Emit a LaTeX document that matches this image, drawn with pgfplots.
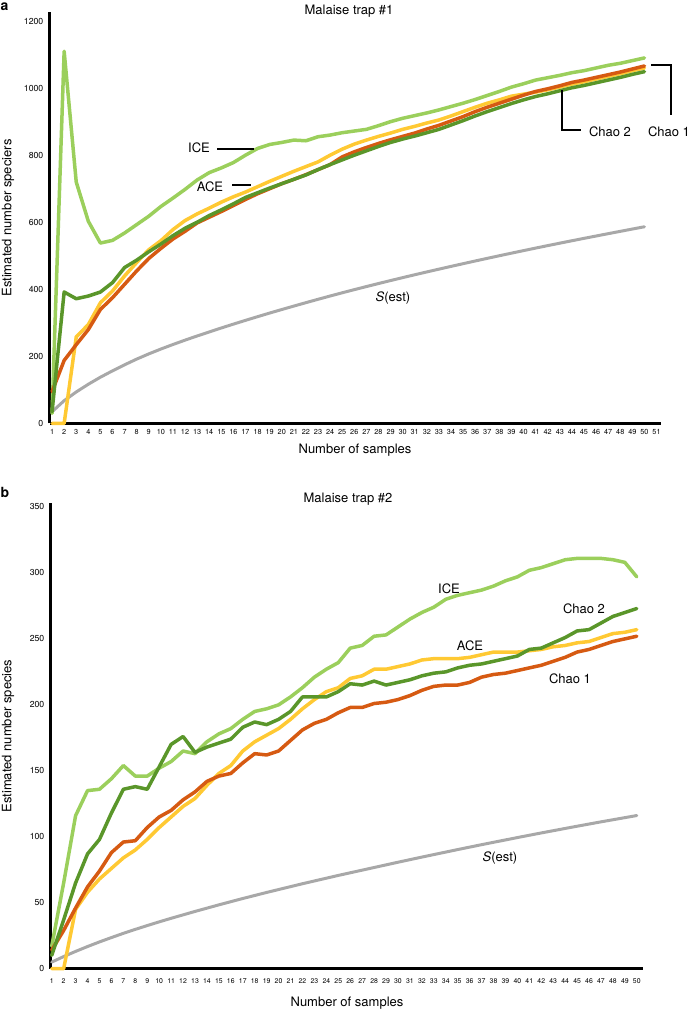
\documentclass[border=0pt]{standalone}
\usepackage{fontspec}
\setmainfont{TeX Gyre Heros}
\usepackage{pgfplots}
\pgfplotsset{compat=1.18}
\usepackage{pgfplotstable}

\definecolor{ice}{HTML}{9BCF5C}
\definecolor{chaotwo}{HTML}{5A962A}
\definecolor{ace}{HTML}{FFC933}
\definecolor{chaoone}{HTML}{D65A12}
\definecolor{sest}{HTML}{A8A8A8}

% Panel a data: k ICE ACE Chao1 Chao2 Sest
\pgfplotstableread{
k ice ace chao1 chao2 sest
1 30 0 95 35 35
2 1110 0 188 392 68
3 720 258 235 372 94
4 603 295 280 380 117
5 538 360 340 392 138
6 546 395 375 420 157
7 568 440 415 465 175
8 593 480 455 487 192
9 618 518 492 512 207.5
10 647 545 522 535 222
11 672 578 550 560 235.5
12 698 605 573 582 248.5
13 726 625 598 600 261
14 748 642 615 620 273
15 762 660 632 637 284.8
16 778 676 650 655 296.3
17 800 690 668 674 307.5
18 820 706 685 688 318.5
19 832 722 700 702 329.3
20 838 737 715 715 339.8
21 845 752 728 728 350.1
22 843 766 742 741 360.3
23 855 780 757 757 370.3
24 860 800 772 772 380.1
25 867 818 795 786 389.7
26 872 833 810 800 399.1
27 877 845 823 813 408.3
28 888 856 835 826 417.3
29 900 866 846 838 426.2
30 910 877 856 848 434.9
31 918 886 866 857 443.5
32 926 896 878 867 451.9
33 935 905 889 877 460.2
34 945 917 902 890 468.4
35 955 930 915 903 476.5
36 966 943 930 917 484.5
37 978 955 943 930 492.4
38 990 965 955 942 500.2
39 1003 976 967 954 507.9
40 1013 982 979 965 515.5
41 1024 988 990 975 523.0
42 1031 995 998 983 530.4
43 1038 1003 1007 992 537.7
44 1046 1012 1017 1001 544.9
45 1052 1019 1024 1008 552.0
46 1060 1027 1032 1016 559.0
47 1068 1035 1040 1024 566.0
48 1074 1043 1048 1032 572.9
49 1082 1052 1057 1041 579.8
50 1090 1060 1066 1049 586.6
}\tabA

% Panel b data
\pgfplotstableread{
k ice ace chao1 chao2 sest
1 17 0 14 10 5
2 65 0 29 37 9.2
3 116 45 46 65 13.1
4 135 58 62 87 16.8
5 136 68 74 98 20.3
6 144 76 88 118 23.6
7 154 84 96 136 26.8
8 146 90 97 138 29.8
9 146 98 107 136 32.7
10 152 107 115 153 35.5
11 157 115 120 170 38.2
12 165 123 128 176 40.8
13 163 129 134 164 43.4
14 172 139 142 168 45.9
15 178 148 146 171 48.4
16 182 154 148 174 50.8
17 189 165 156 183 53.2
18 195 172 163 187 55.5
19 197 177 162 185 57.8
20 200 182 165 189 60.0
21 206 189 173 195 62.2
22 213 197 181 206 64.4
23 221 204 186 206 66.5
24 227 210 189 206 68.6
25 232 213 194 210 70.7
26 243 220 198 216 72.7
27 245 222 198 215 74.7
28 252 227 201 218 76.7
29 253 227 202 215 78.7
30 259 229 204 217 80.7
31 265 231 207 219 82.65
32 270 234 211 222 84.6
33 274 235 214 224 86.5
34 280 235 215 225 88.4
35 283 235 215 228 90.3
36 285 236 217 230 92.15
37 287 238 221 231 94.0
38 290 240 223 233 95.8
39 294 240 224 235 97.6
40 297 240 226 237 99.4
41 302 241 228 242 101.15
42 304 242 230 243 102.9
43 307 244 233 247 104.6
44 310 245 236 251 106.3
45 311 247 240 256 108.0
46 311 248 242 257 109.65
47 311 251 245 262 111.3
48 310 254 248 267 112.9
49 308 255 250 270 114.5
50 297 257 252 273 116.1
}\tabB

\pgfplotsset{
  myaxis/.style={
    scale only axis,
    axis lines=left,
    axis line style={-, line width=3pt, black},
    clip=false,
    major tick length=0pt,
    ymin=0,
    /pgf/number format/assume math mode=true,
    /pgf/number format/1000 sep={},
    yticklabel style={font=\fontsize{8.7}{9}\selectfont, anchor=east, inner sep=0pt, xshift=-6.5pt},
    xticklabel style={anchor=north, inner sep=0pt},
    every axis plot/.append style={line join=round, line cap=round},
  },
}

\begin{document}
\begin{tikzpicture}
\path[use as bounding box] (0,0) rectangle (690pt,1011pt);

% ---------- Panel a ----------
\begin{axis}[myaxis,
  at={(50pt,587.5pt)}, anchor=south west,
  width=611pt, height=411.5pt,
  xmin=0.83, xmax=51.37, ymax=1227,
  xtick={1,...,51}, ytick={0,200,...,1200},
  xticklabel style={font=\fontsize{7.3}{8}\selectfont, yshift=-5.5pt},
]
\addplot[sest, line width=3pt] table[x=k,y=sest] {\tabA};
\addplot[ice, line width=3.5pt] table[x=k,y=ice] {\tabA};
\addplot[ace, line width=3.5pt] table[x=k,y=ace] {\tabA};
\addplot[chaoone, line width=3.5pt] table[x=k,y=chao1] {\tabA};
\addplot[chaotwo, line width=3.5pt] table[x=k,y=chao2] {\tabA};
\end{axis}

% ---------- Panel b ----------
\begin{axis}[myaxis,
  at={(51pt,42.3pt)}, anchor=south west,
  width=592pt, height=465.7pt,
  xmin=0.94, xmax=50.52, ymax=353,
  xtick={1,...,50}, ytick={0,50,...,350},
  xticklabel style={font=\fontsize{6.9}{8}\selectfont, yshift=-9.5pt},
]
\addplot[sest, line width=3pt] table[x=k,y=sest] {\tabB};
\addplot[ice, line width=3.5pt] table[x=k,y=ice] {\tabB};
\addplot[ace, line width=3.5pt] table[x=k,y=ace] {\tabB};
\addplot[chaoone, line width=3.5pt] table[x=k,y=chao1] {\tabB};
\addplot[chaotwo, line width=3.5pt] table[x=k,y=chao2] {\tabB};
\end{axis}

% ---------- Text and annotations (image pixel coordinates) ----------
\begin{scope}[x=1pt, y=-1pt, yshift=1011pt, font=\fontsize{13}{15}\selectfont]
  \node[anchor=base west, inner sep=0pt, font=\fontsize{14}{16}\selectfont\bfseries] at (0.5,10.5) {a};
  \node[anchor=base west, inner sep=0pt, font=\fontsize{14}{16}\selectfont\bfseries] at (0.5,498) {b};
  % titles
  \node[anchor=base, inner sep=0pt] at (349,15) {Malaise trap \#1};
  \node[anchor=base, inner sep=0pt] at (348,503) {Malaise trap \#2};
  % x labels
  \node[anchor=base, inner sep=0pt] at (355,454) {Number of samples};
  \node[anchor=base, inner sep=0pt] at (347,1006) {Number of samples};
  % y labels
  \node[rotate=90, inner sep=0pt] at (8,218) {Estimated number speciers};
  \node[rotate=90, inner sep=0pt] at (8,736) {Estimated number species};
  % panel a annotations
  \node[anchor=base, inner sep=0pt] at (199,153) {ICE};
  \draw[line width=1.1pt] (217,149) -- (254,149);
  \node[anchor=base, inner sep=0pt] at (210,192) {ACE};
  \draw[line width=1.1pt] (232,185) -- (251,185);
  \node[anchor=base, inner sep=0pt] at (610,137) {Chao 2};
  \draw[line width=1.1pt] (562,90) -- (562,130) -- (581,130);
  \node[anchor=base, inner sep=0pt] at (669,137) {Chao 1};
  \draw[line width=1.1pt] (651,65) -- (671,65) -- (671,115);
  \node[anchor=base, inner sep=0pt] at (393,302) {\textit{S}(est)};
  % panel b annotations
  \node[anchor=base, inner sep=0pt] at (449,594) {ICE};
  \node[anchor=base, inner sep=0pt] at (584,614) {Chao 2};
  \node[anchor=base, inner sep=0pt] at (470,651) {ACE};
  \node[anchor=base, inner sep=0pt] at (570,684) {Chao 1};
  \node[anchor=base, inner sep=0pt] at (500,862) {\textit{S}(est)};
\end{scope}
\end{tikzpicture}
\end{document}
